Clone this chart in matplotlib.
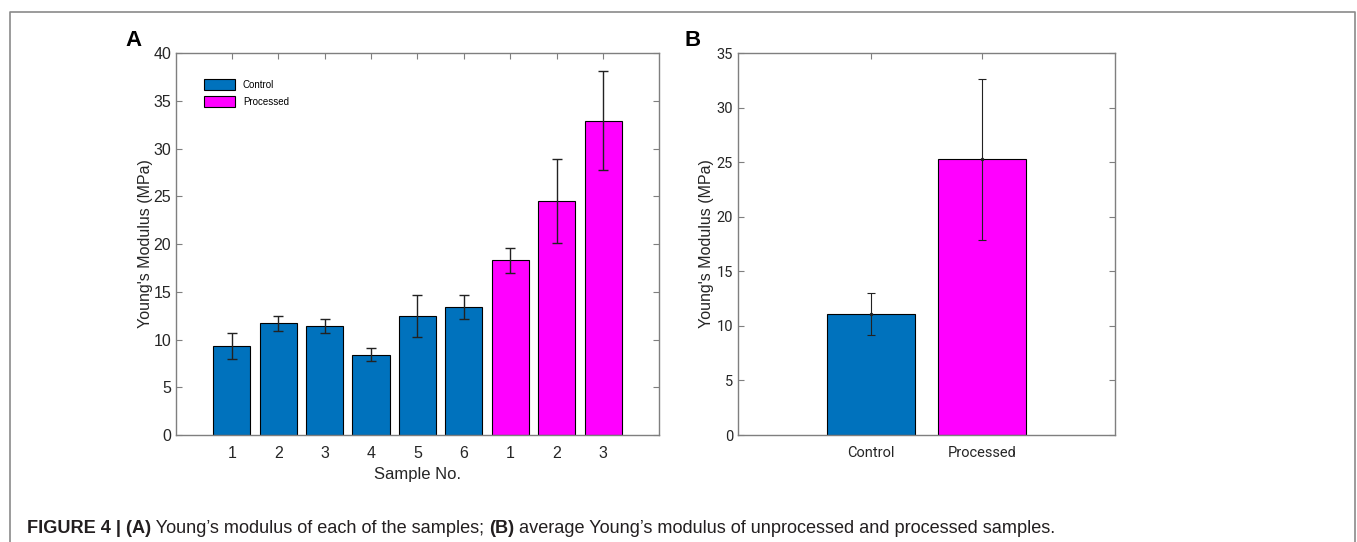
import matplotlib
matplotlib.use('Agg')
from matplotlib import pyplot as plt
from matplotlib.lines import Line2D

plt.rcParams['font.family'] = ['Liberation Sans', 'DejaVu Sans']

# panel A: modulus of each sample
control_samples = ['1', '2', '3', '4', '5', '6']
control_mean = [9.3, 11.7, 11.4, 8.4, 12.5, 13.4]
control_err = [1.33, 0.8, 0.7, 0.68, 2.2, 1.25]
processed_samples = ['1', '2', '3']
processed_mean = [18.3, 24.5, 32.9]
processed_err = [1.33, 4.4, 5.2]

# panel B: group averages
groups = ['Control', 'Processed']
group_mean = [11.1, 25.25]
group_err = [1.9, 7.37]

blue = '#0072BD'
magenta = '#FF00FF'
spine = '#7f7f7f'
tick_col = '#262626'

W, H = 1357, 542
fig = plt.figure(figsize=(W / 100, H / 100), dpi=100)


def style_axes(ax):
    for s in ax.spines.values():
        s.set_color(spine)
        s.set_linewidth(1.0)
    ax.tick_params(direction='in', top=True, right=True, length=4,
                   color=spine, labelcolor=tick_col)
    ax.tick_params(axis='x', pad=8)


axA = fig.add_axes([0.1297, 0.1974, 0.3559, 0.7048])
x_ctrl = list(range(1, len(control_mean) + 1))
x_proc = list(range(len(control_mean) + 1, len(control_mean) + len(processed_mean) + 1))
axA.bar(x_ctrl, control_mean, width=0.8, color=blue, edgecolor='black',
        linewidth=0.8, label='Control', zorder=2)
axA.bar(x_proc, processed_mean, width=0.8, color=magenta, edgecolor='black',
        linewidth=0.8, label='Processed', zorder=2)
axA.errorbar(x_ctrl + x_proc, control_mean + processed_mean,
             yerr=control_err + processed_err, fmt='none', ecolor='#222222',
             elinewidth=1.0, capsize=3.6, capthick=1.0, zorder=3)
axA.set_xlim(-0.2, 10.2)
axA.set_ylim(0, 40)
axA.set_xticks(x_ctrl + x_proc)
axA.set_xticklabels(control_samples + processed_samples)
axA.set_yticks(range(0, 41, 5))
style_axes(axA)
axA.tick_params(labelsize=11.5)
axA.set_xlabel('Sample No.', fontsize=12, color=tick_col, labelpad=4)
axA.set_ylabel("Young's Modulus (MPa)", fontsize=11.5, color=tick_col, labelpad=0)
leg = axA.legend(loc='upper left', bbox_to_anchor=(0.04, 0.955), frameon=False,
                 fontsize=7, handlelength=3.2, handleheight=1.4,
                 handletextpad=0.8, labelspacing=0.6)

axB = fig.add_axes([0.5438, 0.1974, 0.2778, 0.7048])
xb = [1, 2]
axB.bar(xb, group_mean, width=0.8, color=[blue, magenta], edgecolor='black',
        linewidth=0.8, zorder=2)
axB.errorbar(xb, group_mean, yerr=group_err, fmt='.', color='#222222',
             markersize=3, elinewidth=0.8, capsize=2.6, capthick=0.8, zorder=3)
axB.set_xlim(-0.2, 3.2)
axB.set_ylim(0, 35)
axB.set_xticks(xb)
axB.set_xticklabels(groups)
axB.set_yticks(range(0, 36, 5))
style_axes(axB)
axB.tick_params(labelsize=10.5)
for lab in axB.get_xticklabels() + axB.get_yticklabels():
    lab.set_family(['Roboto', 'Liberation Sans'])
axB.set_ylabel("Young's Modulus (MPa)", fontsize=11.5, color=tick_col, labelpad=2)

# panel letters
fig.text(134 / W, 1 - 40 / H, 'A', fontsize=16, fontweight='bold',
         ha='center', va='center')
fig.text(693 / W, 1 - 40 / H, 'B', fontsize=16, fontweight='bold',
         ha='center', va='center')

# outer frame, open at the bottom
fig.add_artist(Line2D([10 / W, 10 / W, 1355 / W, 1355 / W],
                      [0, 1 - 12 / H, 1 - 12 / H, 0],
                      transform=fig.transFigure, color='#8a8a8a', lw=1.2))

# caption with mixed weights
parts = [
    ('FIGURE 4 | (A)', 'bold'),
    (' Young\u2019s modulus of each of the samples; ', 'normal'),
    ('(B)', 'bold'),
    (' average Young\u2019s modulus of unprocessed and processed samples.', 'normal'),
]
prev = fig.text(27 / W, 1 - 537 / H, parts[0][0], fontsize=13.1,
                fontweight=parts[0][1], color='#231f20', ha='left', va='bottom')
for txt, wt in parts[1:]:
    prev = fig.add_artist(plt.Annotation(txt, xy=(1, 0), xycoords=prev,
                                         fontsize=13.1, fontweight=wt,
                                         color='#231f20', ha='left', va='bottom'))

fig.savefig('out.png', dpi=100)
